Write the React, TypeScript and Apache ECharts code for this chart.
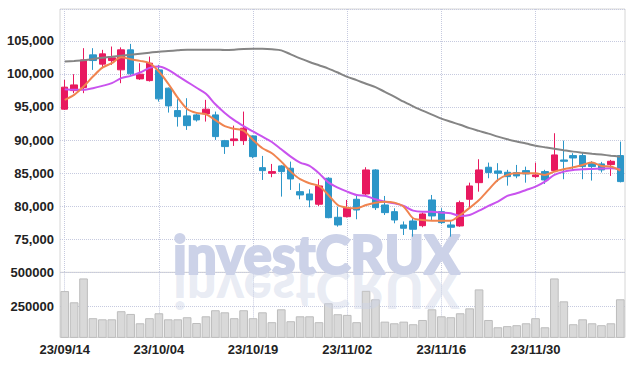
import React, { useEffect, useRef } from "react";
import * as echarts from "echarts";

const dates = [
  "23/09/14", "23/09/15", "23/09/18", "23/09/19", "23/09/20", "23/09/21", "23/09/22", "23/09/25", "23/09/26", "23/09/27",
  "23/10/04", "23/10/05", "23/10/06", "23/10/10", "23/10/11", "23/10/12", "23/10/13", "23/10/16", "23/10/17", "23/10/18",
  "23/10/19", "23/10/20", "23/10/23", "23/10/24", "23/10/25", "23/10/26", "23/10/27", "23/10/30", "23/10/31", "23/11/01",
  "23/11/02", "23/11/03", "23/11/06", "23/11/07", "23/11/08", "23/11/09", "23/11/10", "23/11/13", "23/11/14", "23/11/15",
  "23/11/16", "23/11/17", "23/11/20", "23/11/21", "23/11/22", "23/11/23", "23/11/24", "23/11/27", "23/11/28", "23/11/29",
  "23/11/30", "23/12/01", "23/12/04", "23/12/05", "23/12/06", "23/12/07", "23/12/08", "23/12/11", "23/12/12", "23/12/13",
];

// [open, close, low, high]
const ohlc = [
  [94660, 97990, 94550, 99090], [97470, 98330, 97080, 99950], [97930, 102110, 97080, 103880], [102870, 102010, 100600, 103880],
  [101470, 103020, 100860, 103630], [102010, 102420, 101360, 104130], [100610, 103630, 98590, 104000], [103630, 100000, 99850, 104530],
  [99240, 99950, 99090, 101610], [98980, 101610, 98840, 102610], [100600, 96220, 95810, 101360], [97840, 95160, 94150, 97930],
  [94450, 93540, 92030, 96170], [93650, 92180, 91530, 96320], [93800, 93040, 92790, 94000], [93950, 94660, 92790, 96070],
  [93800, 90520, 90020, 94300], [89910, 89010, 87900, 90020], [89910, 90170, 89110, 92180], [89910, 91790, 89260, 94300],
  [90620, 87490, 87250, 90700], [85830, 85380, 83970, 87600], [84980, 85230, 84380, 86390], [86090, 85230, 81450, 86200],
  [85740, 84120, 82460, 86740], [82200, 81700, 81050, 83470], [81850, 80950, 79840, 82560], [80300, 83060, 80040, 84080],
  [84230, 78270, 78180, 84380], [78330, 77170, 76910, 79930], [78420, 79690, 78300, 80950], [81050, 79430, 78030, 81700],
  [81850, 85480, 81700, 85890], [85480, 79780, 79430, 85600], [80190, 79030, 78680, 81550], [79180, 77920, 77420, 79690],
  [77170, 76670, 75650, 77700], [77770, 76520, 75400, 78330], [77060, 78830, 76820, 79030], [80950, 78530, 77920, 81700],
  [79180, 77520, 77300, 79700], [77170, 76820, 75400, 77920], [77020, 80540, 76900, 80840], [81050, 83060, 79840, 83560],
  [83560, 85480, 82200, 87100], [85890, 85080, 84230, 86590], [85330, 84980, 83710, 86500], [85130, 84470, 83110, 85500],
  [85080, 84580, 84230, 86240], [85380, 84880, 83560, 85980], [84470, 84730, 84230, 86590], [85230, 83970, 83370, 85500],
  [85380, 87750, 85230, 91030], [86990, 86790, 84080, 89910], [87650, 87290, 85480, 88010], [87650, 85990, 84080, 88100],
  [86490, 85990, 83870, 86800], [86390, 85480, 85100, 86700], [86290, 86790, 84580, 87000], [87650, 83720, 83600, 89760],
];

const ma5 = [
  96070, 96820, 98080, 99590, 100950, 101610, 102520, 102220, 101960, 101610,
  100350, 98500, 96400, 94700, 94100, 93900, 93000, 92100, 91700, 91420,
  90020, 88760, 88010, 86740, 85230, 84080, 83470, 83060, 81700, 80190,
  79780, 79690, 80190, 80540, 80690, 80540, 79930, 78180, 77920, 77820,
  77820, 77820, 78680, 79750, 80950, 82460, 83970, 84730, 84980, 84980,
  84980, 84730, 85230, 85590, 85890, 86240, 86590, 86090, 85990, 85380,
];

const ma20 = [
  97690, 97580, 97600, 97840, 98180, 98590, 99350, 99700, 100200, 100900,
  101100, 100600, 99700, 98800, 97900, 97000, 95400, 94100, 93000, 92100,
  91300, 90500, 89700, 88600, 87500, 86600, 86100, 85000, 83600, 82800,
  82200, 81700, 81550, 81050, 80690, 80450, 80040, 79330, 79180, 79180,
  79030, 78940, 78530, 78680, 79330, 80040, 80690, 81550, 81960, 82460,
  82960, 83710, 84730, 85230, 85480, 85590, 85640, 85690, 85740, 85590,
];

const ma60 = [
  101860, 101950, 102050, 102250, 102450, 102600, 102750, 102900, 103050, 103200,
  103350, 103450, 103550, 103650, 103650, 103650, 103650, 103600, 103650, 103750,
  103800, 103780, 103700, 103550, 102950, 102350, 101800, 101300, 100800, 100200,
  99550, 99050, 98500, 98000, 97280, 96570, 95790, 95100, 94440, 93840,
  93240, 92760, 92300, 91800, 91380, 90970, 90520, 90110, 89770, 89470,
  89130, 88910, 88700, 88470, 88250, 88090, 87940, 87800, 87640, 87490,
];

const volume = [
  364000, 282000, 456000, 166000, 158000, 158000, 217000, 197000, 129000, 166000,
  202000, 158000, 158000, 173000, 131000, 180000, 224000, 209000, 166000, 224000,
  166000, 209000, 137000, 231000, 144000, 180000, 180000, 137000, 275000, 195000,
  190000, 137000, 366000, 304000, 141000, 129000, 141000, 122000, 153000, 231000,
  180000, 173000, 202000, 238000, 376000, 153000, 100000, 108000, 115000, 129000,
  166000, 100000, 456000, 289000, 122000, 158000, 129000, 115000, 129000, 304000,
];

const volumeTicks = [250000, 500000];

const UP = "#e8195f";
const DOWN = "#2c96c8";
const GRID_LINE = "#c6cadf";
const FONT = "'Liberation Sans', Arial, sans-serif";
const MARK_FONT = "Lato, 'Liberation Sans', sans-serif";

export default function App() {
  const ref = useRef<HTMLDivElement>(null);

  useEffect(() => {
    if (!ref.current) return;
    const chart = echarts.init(ref.current, undefined, { renderer: "svg" });
    const labelStyle = {
      color: "#222",
      fontFamily: FONT,
      fontSize: 13,
      fontWeight: "bold" as const,
    };
    const splitLine = { show: true, lineStyle: { type: "dotted" as const, color: GRID_LINE, width: 1 } };
    const markStyle = {
      text: "investCRUX",
      x: 0,
      y: -18.5,
      fontFamily: MARK_FONT,
      fontSize: 53,
      fontWeight: 900,
      verticalAlign: "middle",
      lineWidth: 2,
    };
    const option: any = {
      animation: false,
      grid: [
        { left: 60, right: 9, top: 9, height: 263.4, show: true, borderColor: "#d6d6d6", borderWidth: 1, outerBoundsMode: "none", containLabel: false },
        { left: 60, right: 9, top: 272.4, height: 65, show: true, borderColor: "#d6d6d6", borderWidth: 1, outerBoundsMode: "none", containLabel: false },
      ],
      graphic: [
        {
          type: "text",
          x: 173,
          y: 272,
          z: 1,
          silent: true,
          style: { ...markStyle, fill: "#ccd2e8", stroke: "#ccd2e8" },
        },
        {
          type: "text",
          x: 173,
          y: 272,
          scaleY: -1,
          z: 10,
          silent: true,
          style: { ...markStyle, fill: "rgba(205,212,232,0.45)", stroke: "rgba(205,212,232,0.45)", lineWidth: 0 },
        },
      ],
      xAxis: [
        {
          type: "category",
          data: dates,
          gridIndex: 0,
          boundaryGap: true,
          axisLine: { show: false },
          axisTick: { show: false, alignWithLabel: true, interval: 9 },
          axisLabel: { show: false, interval: 9 },
          splitLine: { ...splitLine, interval: 9, alignWithLabel: true },
        },
        {
          type: "category",
          data: dates,
          gridIndex: 1,
          boundaryGap: true,
          axisLine: { show: false },
          axisTick: { show: false, alignWithLabel: true, interval: 9 },
          axisLabel: { ...labelStyle, interval: 9, margin: 6 },
          splitLine: { ...splitLine, interval: 9, alignWithLabel: true },
        },
      ],
      yAxis: [
        {
          type: "value",
          gridIndex: 0,
          min: 70000,
          max: 109800,
          interval: 5000,
          axisLine: { show: false },
          axisTick: { show: false },
          axisLabel: {
            ...labelStyle,
            margin: 6,
            showMinLabel: false,
            showMaxLabel: false,
            formatter: (v: number) => v.toLocaleString("en-US"),
          },
          splitLine,
        },
        {
          type: "value",
          gridIndex: 1,
          min: 26000,
          max: 500000,
          axisLine: { show: false },
          axisTick: { show: false, customValues: volumeTicks },
          axisLabel: { ...labelStyle, margin: 6, customValues: volumeTicks, formatter: (v: number) => String(v) },
          splitLine,
        },
      ],
      series: [
        {
          type: "bar",
          xAxisIndex: 1,
          yAxisIndex: 1,
          data: volume,
          barWidth: "92%",
          itemStyle: { color: "#d9d9d9", borderColor: "#bdbdbd", borderWidth: 1 },
        },
        {
          type: "candlestick",
          xAxisIndex: 0,
          yAxisIndex: 0,
          data: ohlc,
          barWidth: 7,
          z: 3,
          itemStyle: { color: UP, color0: DOWN, borderColor: UP, borderColor0: DOWN, borderWidth: 1 },
        },
        {
          type: "line",
          data: ma60,
          symbol: "none",
          smooth: 0.3,
          z: 4,
          lineStyle: { color: "#858585", width: 2 },
        },
        {
          type: "line",
          data: ma20,
          symbol: "none",
          smooth: 0.3,
          z: 4,
          lineStyle: { color: "#c953ee", width: 2 },
        },
        {
          type: "line",
          data: ma5,
          symbol: "none",
          smooth: 0.3,
          z: 5,
          lineStyle: { color: "#f0844f", width: 2 },
        },
      ],
    };
    chart.setOption(option);
    return () => chart.dispose();
  }, []);

  return <div ref={ref} style={{ width: 634, height: 366, position: "absolute", left: 0, top: 0 }} />;
}
